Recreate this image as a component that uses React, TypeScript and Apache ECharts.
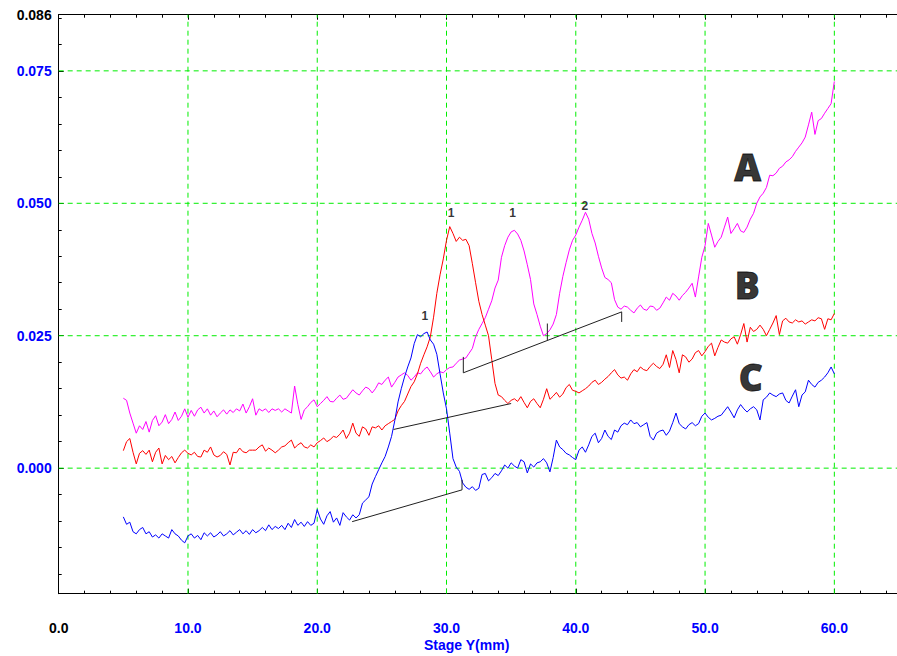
import React, { useEffect, useRef } from "react";
import * as echarts from "echarts";

// Stage Y sampling (mm): first sample and spacing of the traces below
const X_START = 5.0;
const X_STEP = 0.25;

// Trace A (magenta)
const TRACE_A = [
  0.0132, 0.0128, 0.0104, 0.0085, 0.0066, 0.0080, 0.0073, 0.0088,
  0.0068, 0.0090, 0.0099, 0.0080, 0.0087, 0.0101, 0.0084, 0.0092,
  0.0106, 0.0090, 0.0098, 0.0112, 0.0096, 0.0109, 0.0098, 0.0110,
  0.0115, 0.0104, 0.0112, 0.0100, 0.0108, 0.0097, 0.0104, 0.0110,
  0.0102, 0.0110, 0.0105, 0.0112, 0.0108, 0.0121, 0.0104, 0.0116,
  0.0131, 0.0100, 0.0112, 0.0108, 0.0112, 0.0105, 0.0112, 0.0109,
  0.0112, 0.0106, 0.0112, 0.0108, 0.0104, 0.0155, 0.0120, 0.0092,
  0.0110, 0.0116, 0.0124, 0.0129, 0.0116, 0.0122, 0.0128, 0.0135,
  0.0126, 0.0125, 0.0132, 0.0138, 0.0130, 0.0132, 0.0140, 0.0148,
  0.0142, 0.0138, 0.0146, 0.0153, 0.0150, 0.0142, 0.0150, 0.0161,
  0.0158, 0.0166, 0.0172, 0.0153, 0.0162, 0.0172, 0.0176, 0.0180,
  0.0175, 0.0166, 0.0172, 0.0180, 0.0178, 0.0186, 0.0191, 0.0182,
  0.0172, 0.0178, 0.0182, 0.0180, 0.0186, 0.0190, 0.0191, 0.0198,
  0.0204, 0.0206, 0.0208, 0.0217, 0.0226, 0.0248, 0.0262, 0.0273,
  0.0284, 0.0300, 0.0316, 0.0340, 0.0355, 0.0398, 0.0420, 0.0436,
  0.0446, 0.0449, 0.0442, 0.0430, 0.0410, 0.0384, 0.0356, 0.0310,
  0.0290, 0.0268, 0.0250, 0.0254, 0.0261, 0.0272, 0.0290, 0.0330,
  0.0362, 0.0388, 0.0412, 0.0430, 0.0440, 0.0455, 0.0468, 0.0483,
  0.0470, 0.0443, 0.0425, 0.0400, 0.0378, 0.0360, 0.0356, 0.0350,
  0.0318, 0.0304, 0.0300, 0.0306, 0.0304, 0.0298, 0.0293, 0.0302,
  0.0308, 0.0300, 0.0298, 0.0306, 0.0305, 0.0298, 0.0302, 0.0312,
  0.0323, 0.0317, 0.0330, 0.0325, 0.0317, 0.0326, 0.0332, 0.0340,
  0.0349, 0.0323, 0.0361, 0.0398, 0.0420, 0.0462, 0.0440, 0.0417,
  0.0428, 0.0436, 0.0455, 0.0474, 0.0443, 0.0452, 0.0462, 0.0448,
  0.0445, 0.0455, 0.0470, 0.0481, 0.0500, 0.0512, 0.0519, 0.0530,
  0.0553, 0.0552, 0.0557, 0.0566, 0.0570, 0.0578, 0.0582, 0.0588,
  0.0598, 0.0606, 0.0614, 0.0625, 0.0648, 0.0672, 0.0630, 0.0656,
  0.0660, 0.0670, 0.0679, 0.0688, 0.0730,
];

// Trace B (red)
const TRACE_B = [
  0.0033, 0.0050, 0.0056, 0.0030, 0.0008, 0.0028, 0.0033, 0.0026,
  0.0034, 0.0012, 0.0030, 0.0038, 0.0008, 0.0024, 0.0016, 0.0022,
  0.0010, 0.0020, 0.0029, 0.0034, 0.0028, 0.0025, 0.0030, 0.0022,
  0.0021, 0.0034, 0.0030, 0.0040, 0.0025, 0.0021, 0.0024, 0.0031,
  0.0026, 0.0006, 0.0030, 0.0029, 0.0038, 0.0031, 0.0029, 0.0034,
  0.0034, 0.0034, 0.0040, 0.0044, 0.0032, 0.0038, 0.0034, 0.0029,
  0.0034, 0.0040, 0.0042, 0.0048, 0.0053, 0.0038, 0.0044, 0.0048,
  0.0040, 0.0038, 0.0044, 0.0040, 0.0048, 0.0052, 0.0057, 0.0050,
  0.0054, 0.0060, 0.0058, 0.0064, 0.0072, 0.0056, 0.0066, 0.0085,
  0.0066, 0.0060, 0.0078, 0.0074, 0.0062, 0.0078, 0.0076, 0.0080,
  0.0072, 0.0080, 0.0084, 0.0088, 0.0092, 0.0108, 0.0118, 0.0126,
  0.0140, 0.0154, 0.0163, 0.0178, 0.0198, 0.0214, 0.0229, 0.0248,
  0.0285, 0.0330, 0.0365, 0.0395, 0.0430, 0.0456, 0.0443, 0.0428,
  0.0436, 0.0430, 0.0432, 0.0420, 0.0386, 0.0350, 0.0315, 0.0290,
  0.0270, 0.0250, 0.0205, 0.0160, 0.0138, 0.0135, 0.0128, 0.0122,
  0.0128, 0.0131, 0.0126, 0.0135, 0.0124, 0.0114, 0.0126, 0.0131,
  0.0122, 0.0114, 0.0130, 0.0150, 0.0130, 0.0136, 0.0143, 0.0134,
  0.0140, 0.0152, 0.0158, 0.0147, 0.0145, 0.0142, 0.0146, 0.0150,
  0.0155, 0.0162, 0.0166, 0.0158, 0.0162, 0.0168, 0.0173, 0.0180,
  0.0186, 0.0176, 0.0170, 0.0172, 0.0166, 0.0178, 0.0186, 0.0182,
  0.0191, 0.0186, 0.0184, 0.0192, 0.0198, 0.0192, 0.0188, 0.0196,
  0.0214, 0.0190, 0.0222, 0.0205, 0.0180, 0.0214, 0.0210, 0.0200,
  0.0206, 0.0218, 0.0222, 0.0212, 0.0220, 0.0230, 0.0236, 0.0212,
  0.0228, 0.0242, 0.0238, 0.0236, 0.0244, 0.0248, 0.0234, 0.0252,
  0.0273, 0.0238, 0.0266, 0.0258, 0.0262, 0.0270, 0.0262, 0.0250,
  0.0262, 0.0274, 0.0288, 0.0252, 0.0278, 0.0283, 0.0276, 0.0274,
  0.0280, 0.0276, 0.0278, 0.0272, 0.0276, 0.0280, 0.0278, 0.0284,
  0.0282, 0.0262, 0.0282, 0.0280, 0.0292,
];

// Trace C (blue)
const TRACE_C = [
  -0.0092, -0.0106, -0.0102, -0.0120, -0.0124, -0.0116, -0.0112, -0.0124,
  -0.0120, -0.0130, -0.0126, -0.0132, -0.0124, -0.0128, -0.0132, -0.0116,
  -0.0124, -0.0128, -0.0136, -0.0141, -0.0128, -0.0124, -0.0132, -0.0127,
  -0.0135, -0.0122, -0.0128, -0.0122, -0.0130, -0.0126, -0.0120, -0.0128,
  -0.0124, -0.0118, -0.0126, -0.0121, -0.0116, -0.0124, -0.0118, -0.0125,
  -0.0116, -0.0122, -0.0118, -0.0112, -0.0118, -0.0107, -0.0116, -0.0110,
  -0.0114, -0.0108, -0.0116, -0.0104, -0.0112, -0.0097, -0.0108, -0.0102,
  -0.0110, -0.0101, -0.0108, -0.0104, -0.0078, -0.0096, -0.0106, -0.0090,
  -0.0082, -0.0102, -0.0094, -0.0108, -0.0084, -0.0092, -0.0098, -0.0088,
  -0.0094, -0.0088, -0.0066, -0.0060, -0.0054, -0.0030, -0.0016, -0.0003,
  0.0010, 0.0022, 0.0040, 0.0060, 0.0090, 0.0125, 0.0150, 0.0172,
  0.0191, 0.0208, 0.0235, 0.0252, 0.0248, 0.0254, 0.0257, 0.0242,
  0.0234, 0.0215, 0.0178, 0.0142, 0.0112, 0.0066, 0.0018, 0.0002,
  -0.0006, -0.0028, -0.0036, -0.0040, -0.0035, -0.0042, -0.0038, -0.0012,
  -0.0010, -0.0024, -0.0018, -0.0010, -0.0014, -0.0005, 0.0006, 0.0000,
  0.0010, 0.0004, 0.0000, 0.0016, 0.0012, -0.0009, 0.0008, 0.0002,
  0.0010, 0.0012, 0.0018, 0.0010, -0.0007, 0.0020, 0.0053, 0.0040,
  0.0035, 0.0028, 0.0025, 0.0020, 0.0016, 0.0034, 0.0040, 0.0030,
  0.0044, 0.0060, 0.0066, 0.0048, 0.0056, 0.0072, 0.0060, 0.0054,
  0.0072, 0.0068, 0.0080, 0.0085, 0.0082, 0.0091, 0.0084, 0.0086,
  0.0078, 0.0082, 0.0086, 0.0060, 0.0053, 0.0066, 0.0070, 0.0072,
  0.0062, 0.0070, 0.0086, 0.0104, 0.0084, 0.0078, 0.0074, 0.0082,
  0.0086, 0.0080, 0.0084, 0.0098, 0.0104, 0.0096, 0.0091, 0.0094,
  0.0098, 0.0100, 0.0108, 0.0116, 0.0106, 0.0095, 0.0110, 0.0120,
  0.0112, 0.0106, 0.0112, 0.0116, 0.0110, 0.0091, 0.0129, 0.0134,
  0.0142, 0.0138, 0.0135, 0.0140, 0.0142, 0.0128, 0.0123, 0.0136,
  0.0148, 0.0116, 0.0138, 0.0144, 0.0166, 0.0158, 0.0153, 0.0162,
  0.0166, 0.0172, 0.0180, 0.0191, 0.0178,
];

// Peak baselines and their separator marks: [[x1, y1], [x2, y2]]
const BASELINES = [
  [[31.3, 0.018], [43.55, 0.0295]],
  [[31.3, 0.018], [31.3, 0.021]],
  [[37.8, 0.0242], [37.8, 0.0273]],
  [[43.55, 0.0295], [43.55, 0.0276]],
  [[25.9, 0.0073], [35.0, 0.0122]],
  [[22.7, -0.0101], [31.2, -0.0041]],
  [[31.2, -0.0041], [31.2, -0.0022]],
];

// Peak numbers: [x, y, text]
const PEAK_LABELS: [number, number, string][] = [
  [28.33, 0.0287, "1"],
  [30.35, 0.0482, "1"],
  [35.12, 0.0482, "1"],
  [40.71, 0.0495, "2"],
];

// Trace letters: [x, y, text]
const TRACE_LETTERS: [number, number, string][] = [
  [53.3, 0.0569, "A"],
  [53.27, 0.0346, "B"],
  [53.53, 0.0173, "C"],
];

// Dashed grid positions
const GRID_X = [10, 20, 30, 40, 50, 60];
const GRID_Y = [0, 0.025, 0.05, 0.075];

const X_MIN = 0;
const X_MAX = 70;
const Y_MIN = -0.0237;
const Y_MAX = 0.0856;

const BLUE = "#0000ff";
const GREEN = "#00ee00";
const FONT = "Liberation Sans";

export default function App() {
  const ref = useRef<HTMLDivElement>(null);

  useEffect(() => {
    document.body.style.margin = "0";
    if (!ref.current) return;
    const chart = echarts.init(ref.current, null, { renderer: "svg" });

    const toPairs = (arr: number[]) =>
      arr.map((y, i) => [+(X_START + i * X_STEP).toFixed(2), y]);

    const dashed = (data: number[][]) => ({
      type: "line",
      xAxisIndex: 0,
      yAxisIndex: 0,
      data,
      symbol: "none",
      showSymbol: false,
      silent: true,
      lineStyle: { color: GREEN, width: 1, type: [5, 4], opacity: 1 },
      itemStyle: { color: GREEN },
      z: 1,
    });
    const gridSeries = [
      ...GRID_X.map((x) => dashed([[x, Y_MIN], [x, Y_MAX]])),
      ...GRID_Y.map((y) => dashed([[X_MIN, y], [X_MAX, y]])),
    ];

    const traceSeries = [
      { name: "A", data: TRACE_A, color: "#ff00ff" },
      { name: "B", data: TRACE_B, color: "#ff0000" },
      { name: "C", data: TRACE_C, color: "#0000ff" },
    ].map((t) => ({
      type: "line",
      name: t.name,
      xAxisIndex: 0,
      yAxisIndex: 0,
      data: toPairs(t.data),
      symbol: "none",
      showSymbol: false,
      silent: true,
      lineStyle: { color: t.color, width: 1 },
      itemStyle: { color: t.color },
      z: 3,
    }));

    const baseSeries = BASELINES.map((seg) => ({
      type: "line",
      xAxisIndex: 0,
      yAxisIndex: 0,
      data: seg,
      symbol: "none",
      showSymbol: false,
      silent: true,
      lineStyle: { color: "#202020", width: 1 },
      itemStyle: { color: "#202020" },
      z: 4,
    }));

    const labelSeries = (
      items: [number, number, string][],
      size: number,
      family: string,
      weight: string | number,
      border: number
    ) => ({
      type: "scatter",
      xAxisIndex: 0,
      yAxisIndex: 0,
      data: items.map((p) => ({ value: [p[0], p[1]], name: p[2] })),
      symbolSize: 1,
      silent: true,
      itemStyle: { color: "rgba(0,0,0,0)" },
      label: {
        show: true,
        position: [0.5, 0.5],
        align: "center",
        verticalAlign: "middle",
        formatter: (p: any) => `{t|${p.name}}`,
        rich: {
          t: {
            color: "#000000",
            fontWeight: weight,
            fontSize: size,
            fontFamily: family,
            textBorderColor: "#000000",
            textBorderWidth: border,
          },
        },
        color: "#000000",
        fontWeight: weight,
        fontSize: size,
        fontFamily: family,
      },
      z: 5,
    });

    const rich = () => ({
      k: { color: "#000000", fontSize: 14, fontWeight: "bold", fontFamily: FONT },
      b: { color: BLUE, fontSize: 14, fontWeight: "bold", fontFamily: FONT },
    });

    const frameLine = () => ({ onZero: false, lineStyle: { color: "#000000", width: 1 } });
    const majorTick = () => ({ inside: true, length: 5, lineStyle: { color: "#000000" } });
    const minorTick = () => ({
      show: true,
      splitNumber: 5,
      length: 3,
      lineStyle: { color: "#000000" },
    });

    const option: any = {
      animation: false,
      backgroundColor: "#ffffff",
      grid: [
        { left: 58.7, width: 904.9, top: 14.7, bottom: 62.3, outerBoundsMode: "none", containLabel: false },
        { left: 58.7, width: 904.9, top: -61.58, bottom: 55.41, outerBoundsMode: "none", containLabel: false },
      ],
      xAxis: [
        {
          gridIndex: 0,
          type: "value",
          position: "bottom",
          min: X_MIN,
          max: X_MAX,
          interval: 10,
          axisLine: frameLine(),
          axisTick: majorTick(),
          minorTick: minorTick(),
          axisLabel: {
            margin: 27,
            fontSize: 14,
            fontWeight: "bold",
            fontFamily: FONT,
            formatter: (v: number) =>
              v === 0 ? `{k|${v.toFixed(1)}}` : `{b|${v.toFixed(1)}}`,
            rich: rich(),
            showMaxLabel: false,
            hideOverlap: false,
          },
          splitLine: { show: false },
        },
        {
          gridIndex: 0,
          type: "value",
          position: "top",
          min: X_MIN,
          max: X_MAX,
          interval: 10,
          axisLine: frameLine(),
          axisTick: majorTick(),
          minorTick: minorTick(),
          axisLabel: { show: false },
          splitLine: { show: false },
        },
        {
          gridIndex: 1,
          type: "value",
          min: X_MIN,
          max: X_MAX,
          show: false,
          splitLine: { show: false },
        },
      ],
      yAxis: [
        {
          gridIndex: 0,
          type: "value",
          position: "left",
          min: Y_MIN,
          max: Y_MAX,
          minInterval: 0.025,
          maxInterval: 0.025,
          axisLine: frameLine(),
          axisTick: majorTick(),
          axisLabel: {
            margin: 7,
            fontSize: 14,
            fontWeight: "bold",
            fontFamily: FONT,
            formatter: (v: number) => {
              if (v < -0.02) return "";
              if (v >= Y_MAX - 1e-9) return `{k|${v.toFixed(3)}}`;
              return `{b|${v.toFixed(3)}}`;
            },
            rich: rich(),
            hideOverlap: false,
          },
          splitLine: { show: false },
        },
        {
          gridIndex: 1,
          type: "value",
          position: "left",
          min: -0.025,
          max: 0.1,
          interval: 0.025,
          axisLine: { show: false, onZero: false },
          axisTick: { show: false, inside: true },
          minorTick: minorTick(),
          axisLabel: { show: false },
          splitLine: { show: false },
        },
      ],
      graphic: [
        {
          type: "text",
          left: 424,
          top: 638,
          style: {
            text: "Stage Y(mm)",
            fill: BLUE,
            font: `bold 14px "${FONT}"`,
          },
        },
      ],
      series: [
        ...gridSeries,
        ...traceSeries,
        ...baseSeries,
        labelSeries(PEAK_LABELS, 12, FONT, "bold", 0),
        labelSeries(TRACE_LETTERS, 37, "Open Sans", 800, 0.8),
      ],
    };

    chart.setOption(option);
    return () => chart.dispose();
  }, []);

  return (
    <div
      ref={ref}
      style={{ position: "absolute", left: 0, top: 0, width: 897, height: 656 }}
    />
  );
}
